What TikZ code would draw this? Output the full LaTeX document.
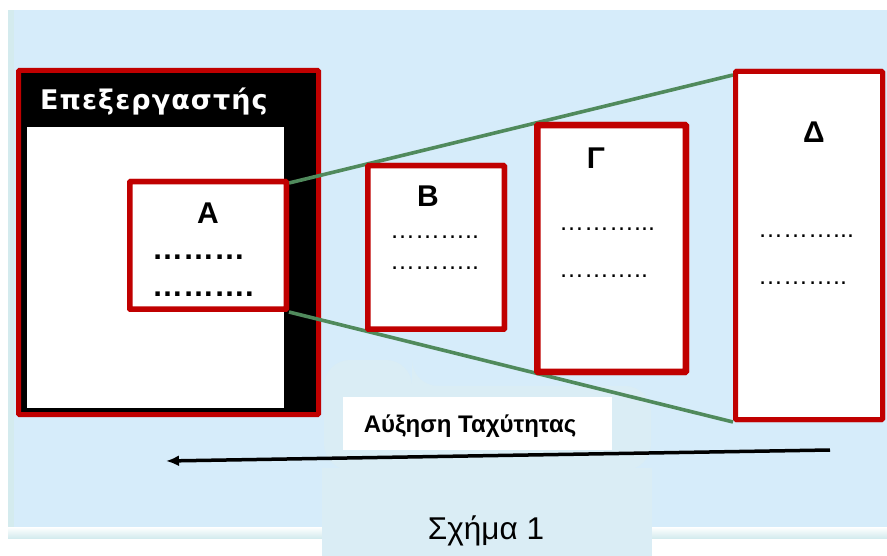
\documentclass[tikz,border=0pt]{standalone}
\usepackage{fontspec}
\setmainfont{Liberation Sans}
\newfontfamily\cpufont[LetterSpace=4]{DejaVu Sans}
\usetikzlibrary{arrows.meta,calc,positioning}
\definecolor{bgBlue}{RGB}{214,236,250}
\definecolor{frameBlue}{RGB}{212,235,238}
\definecolor{cloudBlue}{RGB}{218,237,245}
\definecolor{cacheRed}{RGB}{192,0,0}
\definecolor{busGreen}{RGB}{80,138,92}

\tikzset{
  memBox/.style={draw=cacheRed, fill=white, inner sep=0pt, rounded corners=0.8pt},
  letter/.style={font=\bfseries\fontsize{30}{36}\selectfont, anchor=base, inner sep=0pt},
  dotline/.style={font=\fontsize{25}{30}\selectfont, anchor=base west, inner sep=0pt},
  bus/.style={busGreen, line width=3.6pt},
}

\begin{document}
\begin{tikzpicture}[x=1pt,y=-1pt]

      % page and background
      \useasboundingbox (0,0) rectangle (887,556);
      \fill[white] (0,0) rectangle (887,556);
      \fill[frameBlue] (8,10) rectangle (887,538);
      \shade[top color=white, bottom color=frameBlue] (8,527) rectangle (887,538);
      \fill[bgBlue] (14,10) rectangle (887,527);

      % the pale cloud behind the labels
      \fill[cloudBlue, rounded corners=26pt] (324,470) -- (324,360) -- (412,360) -- (412,386) -- (651,386) -- (651,470) -- cycle;
      \fill[cloudBlue] (322,468) rectangle (652,556);

      % the processor
      \node[memBox, fill=black, line width=5pt, minimum width=300pt, minimum height=344pt] (cpu) at (168.5,242.5) {};
      \node[fill=white, inner sep=0pt, minimum width=257pt, minimum height=281pt] (cpuIn) at (155.5,267.5) {};
      \node[font=\cpufont\bfseries\fontsize{27}{30}\selectfont, text=white, anchor=base west, inner sep=0pt] (cpuName) at (40,110) {Επεξεργαστής};

      % the memory levels
      \node[memBox, line width=5.5pt, minimum width=156.5pt, minimum height=127.5pt] (A) at (208,245.5) {};
      \node[memBox, line width=5.5pt, minimum width=136.5pt, minimum height=163.5pt] (B) at (436,247.5) {};
      \node[memBox, line width=6.5pt, minimum width=148.5pt, minimum height=246.5pt] (G) at (611.5,248.5) {};
      \node[memBox, line width=5pt, minimum width=147pt, minimum height=348pt] (D) at (809,245.5) {};

      % the widening lines from A to D
      \draw[bus] ($(A.north east)+(0,4)$) -- ($(D.north west)+(0,6)$);
      \draw[bus] (A.south east) -- (D.south west);

      % boxes drawn again over the lines
      \node[memBox, line width=5.5pt, minimum width=156.5pt, minimum height=127.5pt] at (A) {};
      \node[memBox, line width=5.5pt, minimum width=136.5pt, minimum height=163.5pt] at (B) {};
      \node[memBox, line width=6.5pt, minimum width=148.5pt, minimum height=246.5pt] at (G) {};
      \node[memBox, line width=5pt, minimum width=147pt, minimum height=348pt] at (D) {};

      % names and dots
      \node[letter] (nameA) at (208,224) {Α};
      \node[letter] (nameB) at (428,207) {Β};
      \node[letter] (nameG) at (596,169) {Γ};
      \node[letter] (nameD) at (814,143) {Δ};

      \node[dotline, font=\bfseries\fontsize{31}{36}\selectfont] (dotsA1) at (152,260) {………};
      \node[dotline, font=\bfseries\fontsize{31}{36}\selectfont] (dotsA2) at (152,297) {……….};
      \node[dotline] (dotsB1) at (390,239) {………..};
      \node[dotline] (dotsB2) at (390,270) {………..};
      \node[dotline] (dotsG1) at (559,231) {………...};
      \node[dotline] (dotsG2) at (559,278) {………..};
      \node[dotline] (dotsD1) at (758,238) {………...};
      \node[dotline] (dotsD2) at (758,285) {………..};

      % speed label and arrow
      \node[fill=white, inner sep=0pt, minimum width=269pt, minimum height=53pt] (speedBox) at (477.5,423.5) {};
      \node[font=\bfseries\fontsize{24}{28}\selectfont, anchor=base, inner sep=0pt] (speed) at (470,432) {Αύξηση Ταχύτητας};
      \coordinate (arrowStart) at (830,450);
      \coordinate (arrowEnd) at (166,461);
      \draw[line width=3.5pt, -{Latex[length=13pt,width=11pt]}] (arrowStart) -- (arrowEnd);

      % caption
      \node[font=\fontsize{31.5}{36}\selectfont, anchor=base, inner sep=0pt] (caption) at (486,539) {Σχήμα 1};

\end{tikzpicture}
\end{document}
